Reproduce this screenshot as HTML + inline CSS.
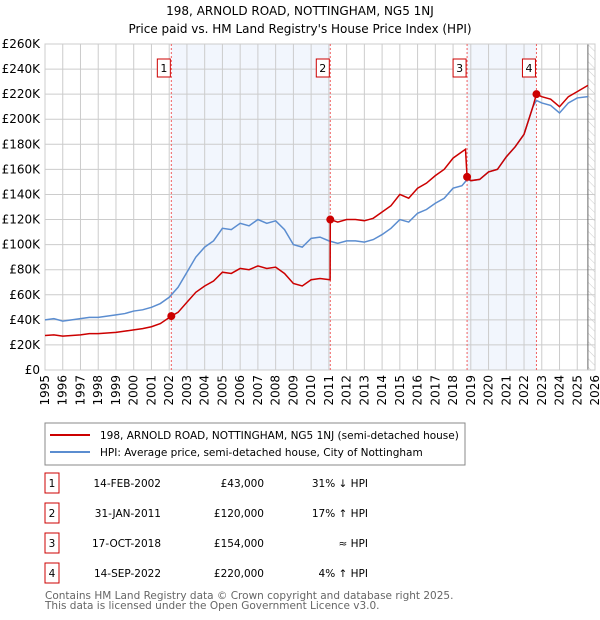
<!DOCTYPE html>
<html><head><meta charset="utf-8"><style>
body{margin:0;background:#fff;font-family:"DejaVu Sans","Liberation Sans",sans-serif;}
#wrap{position:relative;width:600px;height:620px;overflow:hidden}
</style></head><body>
<div id="wrap">
<svg id="svg" width="600" height="620" xmlns="http://www.w3.org/2000/svg" font-family="DejaVu Sans, Liberation Sans, sans-serif">
<defs><pattern id="hatch" width="6" height="6" patternUnits="userSpaceOnUse" patternTransform="rotate(-45)"><line x1="0" y1="0" x2="0" y2="6" stroke="#ccc" stroke-width="1"/></pattern></defs>
<text x="300" y="15" text-anchor="middle" font-size="12">198, ARNOLD ROAD, NOTTINGHAM, NG5 1NJ</text>
<text x="300" y="33" text-anchor="middle" font-size="12">Price paid vs. HM Land Registry's House Price Index (HPI)</text>
<g id="plot"></g>
<rect x="45" y="423" width="420" height="42" fill="#fff" stroke="#888"/>
<line x1="50" y1="435" x2="90" y2="435" stroke="#cc0000" stroke-width="2"/>
<text x="100" y="439" font-size="10.5">198, ARNOLD ROAD, NOTTINGHAM, NG5 1NJ (semi-detached house)</text>
<line x1="50" y1="452" x2="90" y2="452" stroke="#5b8dd0" stroke-width="2"/>
<text x="100" y="456" font-size="10.5">HPI: Average price, semi-detached house, City of Nottingham</text>
<g id="table" font-size="10.5"></g>
<text x="45" y="599" font-size="10.5" fill="#666">Contains HM Land Registry data © Crown copyright and database right 2025.</text>
<text x="45" y="609" font-size="10.5" fill="#666">This data is licensed under the Open Government Licence v3.0.</text>
</svg></div>
<script>
const yearTicks=[1995,1996,1997,1998,1999,2000,2001,2002,2003,2004,2005,2006,2007,2008,2009,2010,2011,2012,2013,2014,2015,2016,2017,2018,2019,2020,2021,2022,2023,2024,2025,2026];
const yTicks=[0,20,40,60,80,100,120,140,160,180,200,220,240,260];
const yTickLabels=["£0","£20K","£40K","£60K","£80K","£100K","£120K","£140K","£160K","£180K","£200K","£220K","£240K","£260K"];
const hpiT=[1995,1995.5,1996,1996.5,1997,1997.5,1998,1998.5,1999,1999.5,2000,2000.5,2001,2001.5,2002,2002.5,2003,2003.5,2004,2004.5,2005,2005.5,2006,2006.5,2007,2007.5,2008,2008.5,2009,2009.5,2010,2010.5,2011,2011.5,2012,2012.5,2013,2013.5,2014,2014.5,2015,2015.5,2016,2016.5,2017,2017.5,2018,2018.5,2018.8,2019,2019.5,2020,2020.5,2021,2021.5,2022,2022.5,2022.7,2023,2023.5,2024,2024.5,2025,2025.6];
const hpiV=[40,41,39,40,41,42,42,43,44,45,47,48,50,53,58,66,78,90,98,103,113,112,117,115,120,117,119,112,100,98,105,106,103,101,103,103,102,104,108,113,120,118,125,128,133,137,145,147,152,151,152,158,160,170,178,188,210,215,213,211,205,213,217,218];
const priceT=[1995,1995.5,1996,1996.5,1997,1997.5,1998,1998.5,1999,1999.5,2000,2000.5,2001,2001.5,2002.12,2002.5,2003,2003.5,2004,2004.5,2005,2005.5,2006,2006.5,2007,2007.5,2008,2008.5,2009,2009.5,2010,2010.5,2011.07,2011.08,2011.5,2012,2012.5,2013,2013.5,2014,2014.5,2015,2015.5,2016,2016.5,2017,2017.5,2018,2018.7,2018.79,2019,2019.5,2020,2020.5,2021,2021.5,2022,2022.5,2022.7,2023,2023.5,2024,2024.5,2025,2025.6];
const priceV=[27.5,28,27,27.5,28,29,29,29.5,30,31,32,33,34.5,37,43,46,54,62,67,71,78,77,81,80,83,81,82,77,69,67,72,73,72,120,118,120,120,119,121,126,131,140,137,145,149,155,160,169,176,154,151,152,158,160,170,178,188,210,220,218,216,210,218,222,227];
const saleT=[2002.12,2011.08,2018.79,2022.7];
const saleV=[43,120,154,220];
const saleLabels=["1","2","3","4"];
const saleDates=["14-FEB-2002","31-JAN-2011","17-OCT-2018","14-SEP-2022"];
const salePrices=["£43,000","£120,000","£154,000","£220,000"];
const saleRel=["31% ↓ HPI","17% ↑ HPI","≈ HPI","4% ↑ HPI"];
const NS="http://www.w3.org/2000/svg";
const X0=45,X1=595,Y0=370,Y1=44;
const x=t=>X0+(t-1995)/(2026-1995)*(X1-X0);
const y=v=>Y0-v/260*(Y0-Y1);
const plot=document.getElementById('plot');
function mk(tag,attrs,parent){const e=document.createElementNS(NS,tag);for(const k in attrs)e.setAttribute(k,attrs[k]);(parent||plot).appendChild(e);return e;}
let e;
e=mk('rect',{x:X0,y:Y1,width:X1-X0,height:Y0-Y1,fill:'#fff'});


e=mk('rect',{x:x(saleT[0]),y:Y1,width:x(saleT[1])-x(saleT[0]),height:Y0-Y1,fill:'#f2f6fd'});


e=mk('rect',{x:x(saleT[2]),y:Y1,width:x(saleT[3])-x(saleT[2]),height:Y0-Y1,fill:'#f2f6fd'});


e=mk('rect',{x:x(2025.6),y:Y1,width:X1-x(2025.6),height:Y0-Y1,fill:'url(#hatch)'});


yTicks.forEach((v,i)=>{
 e=mk('line',{x1:X0,x2:X1,y1:y(v),y2:y(v),stroke:'#ccc','stroke-width':1});
 
 
 e=mk('text',{x:40,y:y(v)+4,'text-anchor':'end','font-size':12});
 e.textContent=yTickLabels[i];
 
 
});
yearTicks.forEach(t=>{
 e=mk('line',{x1:x(t),x2:x(t),y1:Y1,y2:Y0,stroke:'#ccc','stroke-width':1});
 
 
 e=mk('text',{x:0,y:0,'text-anchor':'end','font-size':12,transform:`translate(${x(t)+4},${Y0+5}) rotate(-90)`});
 e.textContent=t;
 
 
});
e=mk('line',{x1:x(2025.6),x2:x(2025.6),y1:Y1,y2:Y0,stroke:'#666','stroke-width':1});


e=mk('rect',{x:X0,y:Y1,width:X1-X0,height:Y0-Y1,fill:'none',stroke:'#ccc'});


saleT.forEach((t,i)=>{
 e=mk('line',{x1:x(t),x2:x(t),y1:Y1,y2:Y0,stroke:'#f06060','stroke-width':1,'stroke-dasharray':'2,2'});
 
 
 e=mk('rect',{x:x(t)-14,y:59,width:13,height:18,fill:'#fff',stroke:'#cc0000'});
 
 
 e=mk('text',{x:x(t)-7.5,y:72,'text-anchor':'middle','font-size':11});
 e.textContent=saleLabels[i];
 
 
});
e=mk('polyline',{points:hpiT.map((t,i)=>x(t)+','+y(hpiV[i])).join(' '),fill:'none',stroke:'#5b8dd0','stroke-width':1.5});


e=mk('polyline',{points:priceT.map((t,i)=>x(t)+','+y(priceV[i])).join(' '),fill:'none',stroke:'#cc0000','stroke-width':1.5});


saleT.forEach((t,i)=>{
 e=mk('circle',{cx:x(t),cy:y(saleV[i]),r:4,fill:'#cc0000'});
 
 
});
const tb=document.getElementById('table');
saleLabels.forEach((l,i)=>{
 const cy=483+i*30;
 e=mk('rect',{x:45,y:cy-10,width:14,height:20,fill:'#fff',stroke:'#cc0000'},tb);
 
 
 const cells=[[52,'middle',l],[161,'end',saleDates[i]],[264,'end',salePrices[i]],[368,'end',saleRel[i]]];
 cells.forEach(c=>{
  e=mk('text',{x:c[0],y:cy+4,'text-anchor':c[1],'font-size':10.5},tb);
  e.textContent=c[2];
  
  
 });
});
</script>
</body></html>
